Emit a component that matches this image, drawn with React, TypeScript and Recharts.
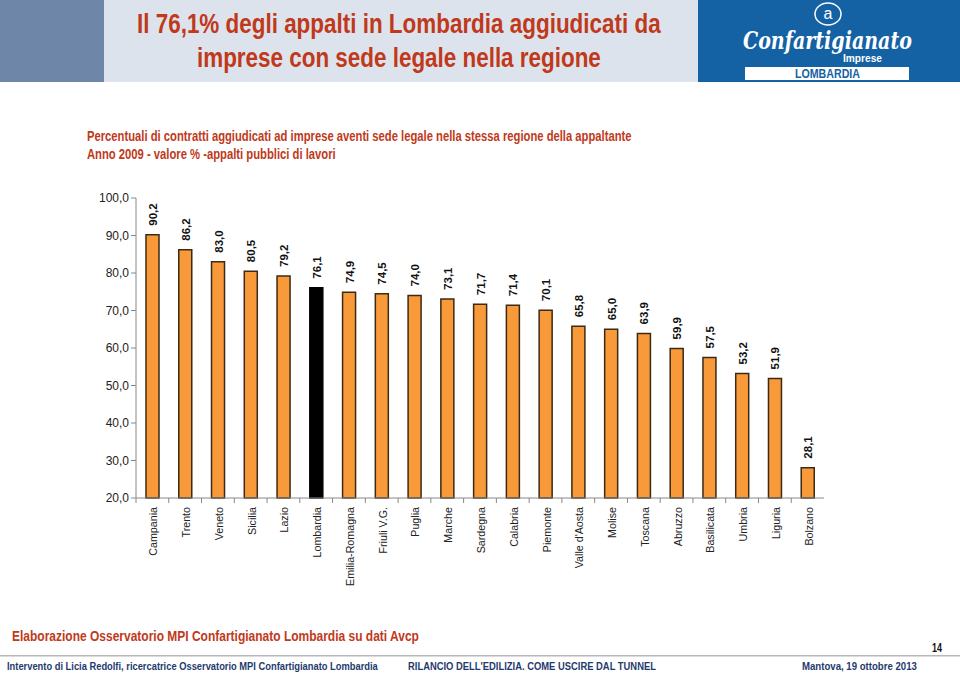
import { useLayoutEffect, useRef, useState } from "react";
import { BarChart, Bar, XAxis, YAxis, Cell, LabelList } from "recharts";

const regioni = [
  "Campania", "Trento", "Veneto", "Sicilia", "Lazio", "Lombardia", "Emilia-Romagna",
  "Friuli V.G.", "Puglia", "Marche", "Sardegna", "Calabria", "Piemonte", "Valle d'Aosta",
  "Molise", "Toscana", "Abruzzo", "Basilicata", "Umbria", "Liguria", "Bolzano",
];
const quote = [
  90.2, 86.2, 83.0, 80.5, 79.2, 76.1, 74.9, 74.5, 74.0, 73.1, 71.7, 71.4, 70.1, 65.8,
  65.0, 63.9, 59.9, 57.5, 53.2, 51.9, 28.1,
];
const yTicks = [20, 30, 40, 50, 60, 70, 80, 90, 100];
const evidenza = "Lombardia";

const data = regioni.map((r, i) => ({ regione: r, valore: quote[i] }));

const RED = "#c0391b";
const NAVY = "#1f3a6e";
const ORANGE = "#f89a3a";
const FONT = "'Liberation Sans', Arial, sans-serif";

const PLOT_W = 688;
const BAND = PLOT_W / regioni.length;

const fmt = (v: number) => v.toFixed(1).replace(".", ",");

// testo condensato (simula Arial Narrow): misura e comprime in orizzontale
function T({ x, y, w, size, color, children, weight = "bold", italic = false, family = FONT }: any) {
  const ref = useRef<SVGTextElement>(null);
  const [k, setK] = useState(1);
  useLayoutEffect(() => {
    if (ref.current) {
      const nw = ref.current.getComputedTextLength();
      if (nw > 0) setK(w / nw);
    }
  }, [w]);
  return (
    <text
      ref={ref}
      transform={`translate(${x},${y}) scale(${k},1)`}
      fontSize={size}
      fontWeight={weight}
      fontStyle={italic ? "italic" : "normal"}
      fontFamily={family}
      fill={color}
    >
      {children}
    </text>
  );
}

function CategoryTick({ x, y, payload }: any) {
  return (
    <g>
      <line x1={x - BAND / 2} x2={x - BAND / 2} y1={y - 8} y2={y - 3} stroke="#888" />
      <text
        transform={`translate(${x + 5},${y + 1}) rotate(-90) scale(0.93,1)`}
        textAnchor="end"
        fontSize={11.5}
        fontFamily={FONT}
        fill="#222"
      >
        {payload.value}
      </text>
    </g>
  );
}

function ValueLabel({ x, y, width, value }: any) {
  const cx = x + width / 2 + 4.5;
  return (
    <text
      transform={`translate(${cx},${y - 9}) rotate(-90)`}
      textAnchor="start"
      fontSize={11.5}
      fontWeight="bold"
      fontFamily={FONT}
      fill="#111"
    >
      {fmt(value)}
    </text>
  );
}

export default function App() {
  return (
    <div style={{ position: "absolute", left: 0, top: 0, width: 960, height: 675, background: "#fff", overflow: "hidden" }}>
      <div style={{ position: "absolute", left: 0, top: 0 }}>
        <BarChart
          width={960}
          height={675}
          data={data}
          margin={{ top: 198, right: 136, bottom: 77, left: 76 }}
        >
          <XAxis
            dataKey="regione"
            interval={0}
            height={100}
            tick={<CategoryTick />}
            tickLine={false}
            axisLine={{ stroke: "#888" }}
          />
          <YAxis
            domain={[20, 100]}
            ticks={yTicks}
            width={60}
            interval={0}
            tickFormatter={fmt}
            tick={{ fill: "#222", fontSize: 12, fontFamily: FONT }}
            tickSize={5}
            tickLine={{ stroke: "#888" }}
            axisLine={{ stroke: "#888" }}
          />
          <Bar dataKey="valore" barSize={13} stroke="#3b2a14" strokeWidth={1.5} isAnimationActive={false}>
            {data.map((d) => (
              <Cell key={d.regione} fill={d.regione === evidenza ? "#000" : ORANGE} stroke={d.regione === evidenza ? "#000" : "#3b2a14"} />
            ))}
            <LabelList dataKey="valore" content={<ValueLabel />} />
          </Bar>
        </BarChart>
      </div>

      <svg style={{ position: "absolute", left: 0, top: 0 }} width={960} height={675}>
        {/* intestazione */}
        <rect x={0} y={0} width={104} height={82} fill="#6e87a8" />
        <rect x={104} y={0} width={594} height={82} fill="#dde3ec" />
        <rect x={698} y={0} width={262} height={82} fill="#1462a3" />
        <T x={137} y={33} w={524} size={28} color={RED}>Il 76,1% degli appalti in Lombardia aggiudicati da</T>
        <T x={197} y={67} w={404} size={28} color={RED}>imprese con sede legale nella regione</T>

        {/* logo */}
        <ellipse cx={828} cy={14} rx={13} ry={11} fill="none" stroke="#fff" strokeWidth={1.5} />
        <text x={828} y={19} textAnchor="middle" fontSize={16} fill="#fff" fontFamily={FONT}>a</text>
        <T x={743} y={49} w={169} size={25} italic color="#fff" family="'DejaVu Serif', serif">Confartigianato</T>
        <T x={843} y={62} w={39} size={10} color="#fff">Imprese</T>
        <rect x={745} y={67} width={164} height={13} fill="#fff" />
        <T x={795} y={78} w={65} size={12} color="#1462a3">LOMBARDIA</T>

        {/* sottotitolo */}
        <T x={87} y={141} w={545} size={14} color={RED}>
          Percentuali di contratti aggiudicati ad imprese aventi sede legale nella stessa regione della appaltante
        </T>
        <T x={87} y={159} w={249} size={14} color={RED}>Anno 2009 - valore % -appalti pubblici di lavori</T>

        {/* piè di pagina */}
        <T x={12} y={641} w={407} size={15} color={RED}>Elaborazione Osservatorio MPI Confartigianato Lombardia su dati Avcp</T>
        <T x={932} y={652} w={10} size={12} color="#111">14</T>
        <rect x={0} y={655} width={960} height={1.5} fill="#b8b8b8" />
        <T x={7} y={670} w={371} size={11.5} color={NAVY}>
          Intervento di Licia Redolfi, ricercatrice Osservatorio MPI Confartigianato Lombardia
        </T>
        <T x={408} y={670} w={248} size={11.5} color={NAVY}>RILANCIO DELL'EDILIZIA. COME USCIRE DAL TUNNEL</T>
        <T x={802} y={670} w={115} size={11.5} color={NAVY}>Mantova, 19 ottobre 2013</T>
      </svg>
    </div>
  );
}
